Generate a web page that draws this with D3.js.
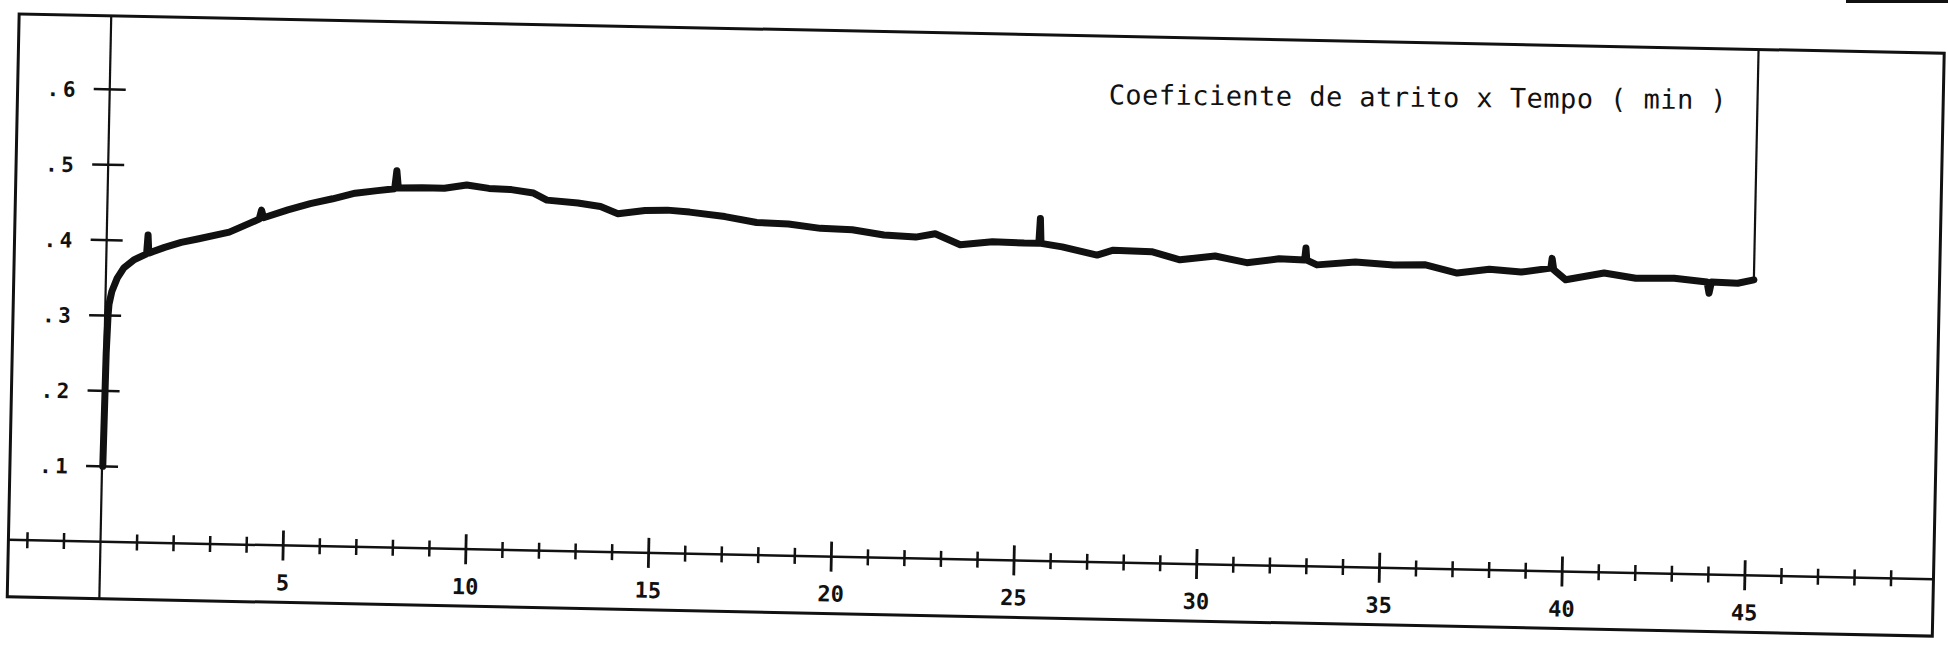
<!DOCTYPE html>
<html>
<head>
<meta charset="utf-8">
<script src="https://cdn.jsdelivr.net/npm/d3@7/dist/d3.min.js"></script>
<style>
  html, body { margin: 0; padding: 0; background: #fff; }
  svg { display: block; }
</style>
</head>
<body>
<svg id="chart" width="1948" height="655"></svg>
<script>
// ---------------- data ----------------
const tempo = [0.02, 0.05, 0.08, 0.10, 0.17, 0.31, 0.49, 0.77, 1.10, 1.13, 1.16, 1.59, 2.04, 2.49, 3.35,
  4.16, 4.22, 4.28, 4.94, 5.55, 6.16, 6.77, 7.38, 7.85, 7.90, 7.95, 8.60, 9.21, 9.82, 10.43, 11.04,
  11.65, 12.02, 12.87, 13.49, 13.97, 14.71, 15.32, 15.93, 16.90, 17.77, 18.64, 19.52, 20.39, 21.26,
  22.13, 22.66, 23.35, 24.23, 25.10, 25.50, 25.53, 25.56, 26.14, 27.10, 27.54, 28.59, 29.37, 30.33,
  31.20, 32.08, 32.78, 32.81, 32.84, 33.12, 34.17, 35.22, 36.09, 36.96, 37.84, 38.71, 39.52, 39.55,
  39.60, 39.93, 40.98, 41.85, 42.90, 43.80, 43.86, 43.92, 44.64, 45.08];
const coef = [0.100, 0.250, 0.300, 0.315, 0.332, 0.350, 0.364, 0.375, 0.383, 0.408, 0.384, 0.392, 0.399, 0.404, 0.414,
  0.432, 0.444, 0.434, 0.445, 0.454, 0.461, 0.469, 0.473, 0.476, 0.500, 0.477, 0.478, 0.478, 0.483, 0.479, 0.478,
  0.474, 0.465, 0.462, 0.458, 0.449, 0.454, 0.455, 0.453, 0.448, 0.441, 0.440, 0.435, 0.434, 0.428,
  0.426, 0.431, 0.417, 0.422, 0.421, 0.421, 0.454, 0.421, 0.417, 0.407, 0.414, 0.413, 0.403, 0.409,
  0.401, 0.407, 0.406, 0.422, 0.406, 0.400, 0.405, 0.402, 0.403, 0.393, 0.399, 0.396, 0.402, 0.415,
  0.400, 0.387, 0.397, 0.391, 0.392, 0.388, 0.373, 0.388, 0.387, 0.392];

const yTicks = [0.1, 0.2, 0.3, 0.4, 0.5, 0.6];
const yTickLabels = [".1", ".2", ".3", ".4", ".5", ".6"];
const xMajorTicks = [5, 10, 15, 20, 25, 30, 35, 40, 45];
const xMajorLabels = ["5", "10", "15", "20", "25", "30", "35", "40", "45"];
const xMinorTicks = [-2, -1, 1, 2, 3, 4, 6, 7, 8, 9, 11, 12, 13, 14, 16, 17, 18, 19, 21, 22, 23, 24,
  26, 27, 28, 29, 31, 32, 33, 34, 36, 37, 38, 39, 41, 42, 43, 44, 46, 47, 48, 49];
const titleText = "Coeficiente de atrito x Tempo ( min )";

// frame extents in data units
const frameX = [-2.52, 50.16];
const frameY = [-0.0756, 0.6976];

// ---------------- layout ----------------
const origin = { x: 100.5, y: 541.7 };
const tilt = 1.17;           // degrees, scanned page is slightly rotated
const pxPerMin = 36.55;
const pxPerTenth = 75.4;
const ink = "#111";

const svg = d3.select("#chart");
svg.append("rect").attr("width", 1948).attr("height", 655).attr("fill", "#fff");

const g = svg.append("g")
  .attr("transform", `translate(${origin.x},${origin.y}) rotate(${tilt})`);

const x = d3.scaleLinear().domain([0, 45]).range([0, 45 * pxPerMin]);
const y = d3.scaleLinear().domain([0, 0.6]).range([0, -6 * pxPerTenth]);

// outer frame
g.append("rect")
  .attr("x", x(frameX[0])).attr("y", y(frameY[1]))
  .attr("width", x(frameX[1]) - x(frameX[0]))
  .attr("height", y(frameY[0]) - y(frameY[1]))
  .attr("fill", "none").attr("stroke", ink).attr("stroke-width", 3);

// y axis line (full height)
g.append("line")
  .attr("x1", x(0)).attr("x2", x(0))
  .attr("y1", y(frameY[0])).attr("y2", y(frameY[1]))
  .attr("stroke", ink).attr("stroke-width", 2.2);

// x axis line (full width)
g.append("line")
  .attr("x1", x(frameX[0])).attr("x2", x(frameX[1]))
  .attr("y1", y(0)).attr("y2", y(0))
  .attr("stroke", ink).attr("stroke-width", 2.5);

// x minor ticks
g.selectAll(".xminor").data(xMinorTicks).enter().append("line")
  .attr("x1", d => x(d)).attr("x2", d => x(d))
  .attr("y1", -8).attr("y2", 8)
  .attr("stroke", ink).attr("stroke-width", 2.5);

// x major ticks
g.selectAll(".xmajor").data(xMajorTicks).enter().append("line")
  .attr("x1", d => x(d)).attr("x2", d => x(d))
  .attr("y1", -15).attr("y2", 15)
  .attr("stroke", ink).attr("stroke-width", 2.8);

// x labels
g.selectAll(".xlab").data(xMajorTicks).enter().append("text")
  .attr("x", d => x(d)).attr("y", 45)
  .attr("text-anchor", "middle")
  .attr("font-family", "'DejaVu Sans Mono', monospace")
  .attr("font-weight", "bold")
  .attr("font-size", 22)
  .attr("fill", ink)
  .text((d, i) => xMajorLabels[i]);

// y ticks
g.selectAll(".ytick").data(yTicks).enter().append("line")
  .attr("x1", -16).attr("x2", 16)
  .attr("y1", d => y(d)).attr("y2", d => y(d))
  .attr("stroke", ink).attr("stroke-width", 2.5);

// y labels
g.selectAll(".ylab").data(yTicks).enter().append("text")
  .attr("x", -63).attr("y", d => y(d) + 8)
  .attr("font-family", "'DejaVu Sans Mono', monospace")
  .attr("font-weight", "bold")
  .attr("font-size", 21)
  .attr("letter-spacing", 3.4)
  .attr("fill", ink)
  .text((d, i) => yTickLabels[i]);

// title
g.append("text")
  .attr("x", 999).attr("y", -458)
  .attr("transform", "rotate(-0.7, 999, -458)")
  .attr("font-family", "'DejaVu Sans Mono', monospace")
  .attr("font-size", 27)
  .attr("textLength", 618)
  .attr("lengthAdjust", "spacing")
  .attr("fill", ink)
  .text(titleText);

// data curve
const pts = tempo.map((t, i) => [t, coef[i]]);
const line = d3.line().x(d => x(d[0])).y(d => y(d[1]));
g.append("path")
  .attr("d", line(pts))
  .attr("fill", "none").attr("stroke", ink)
  .attr("stroke-width", 7)
  .attr("stroke-linejoin", "round").attr("stroke-linecap", "round");

// pen return line at end of test
const last = pts[pts.length - 1];
g.append("line")
  .attr("x1", x(last[0])).attr("x2", x(last[0]))
  .attr("y1", y(last[1])).attr("y2", y(frameY[1]))
  .attr("stroke", ink).attr("stroke-width", 2.2);

// scrap of another frame at the very top right of the scan
svg.append("line")
  .attr("x1", 1846).attr("x2", 1948).attr("y1", 1.5).attr("y2", 1.5)
  .attr("stroke", ink).attr("stroke-width", 3);
</script>
</body>
</html>
